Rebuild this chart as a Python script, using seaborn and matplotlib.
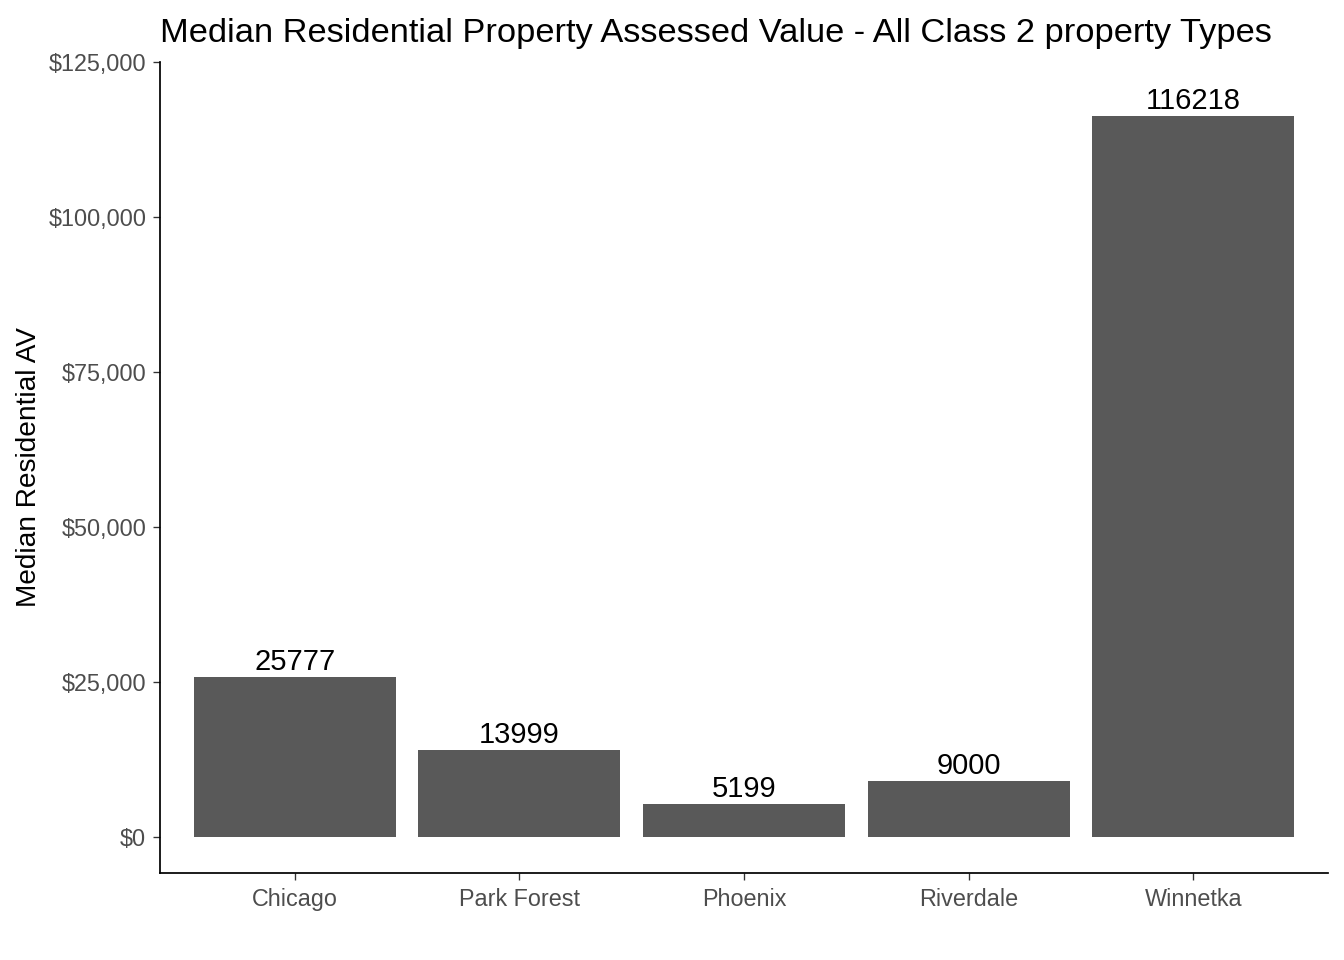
import matplotlib
matplotlib.use("Agg")
import matplotlib.pyplot as plt
import seaborn as sns
import pandas as pd
from matplotlib.ticker import FuncFormatter

cities = ["Chicago", "Park Forest", "Phoenix", "Riverdale", "Winnetka"]
median_av = [25777, 13999, 5199, 9000, 116218]
yticks = [0, 25000, 50000, 75000, 100000, 125000]

df = pd.DataFrame({"city": cities, "av": median_av})

sns.set_theme(style="ticks")
plt.rcParams["font.family"] = ["Liberation Sans", "DejaVu Sans"]

fig = plt.figure(figsize=(14, 10), dpi=96)
ax = fig.add_axes([160/1344, (960-872.5)/960, 1168/1344, (872.5-62)/960])

sns.barplot(data=df, x="city", y="av", color="#595959", width=0.9,
            saturation=1, ax=ax, errorbar=None, linewidth=0)

for i, v in enumerate(median_av):
    ax.annotate(str(v), xy=(i, v), xytext=(0, 0.8), textcoords="offset points",
                ha="center", va="bottom", fontsize=21.8, color="black")

ax.set_xlim(-0.6, 4.6)
ax.set_ylim(-5806, 125000)
ax.set_yticks(yticks)
ax.yaxis.set_major_formatter(FuncFormatter(lambda v, p: f"${int(v):,}"))

for s in ["top", "right"]:
    ax.spines[s].set_visible(False)
for s in ["left", "bottom"]:
    ax.spines[s].set_color("black")
    ax.spines[s].set_linewidth(1.3)

ax.tick_params(axis="both", length=5.3, width=1.0, color="#333333",
               labelcolor="#4d4d4d", labelsize=17.5)
ax.tick_params(axis="y", pad=5)
ax.tick_params(axis="x", pad=6.5)

ax.set_xlabel("")
ax.set_ylabel("Median Residential AV", fontsize=21, color="black", labelpad=4.5)
ax.set_title("Median Residential Property Assessed Value - All Class 2 property Types",
             loc="left", fontsize=25.8, color="black", pad=15)

fig.savefig("out.png", dpi=96, facecolor="white")
